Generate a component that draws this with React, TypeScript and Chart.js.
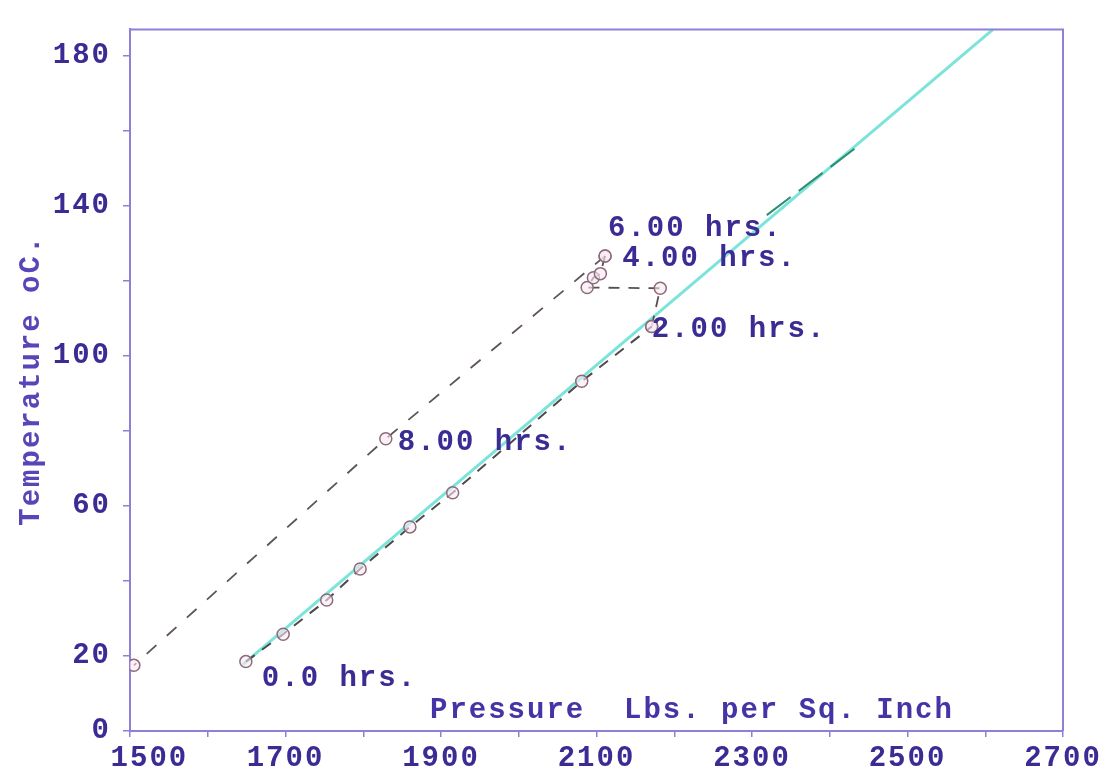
import React, { useEffect, useRef } from 'react';
import { Chart, registerables } from 'chart.js';

Chart.register(...registerables);

// ---------- data ----------
const xTickValues = [1500, 1600, 1700, 1800, 1900, 2000, 2100, 2200, 2300, 2400, 2500, 2600, 2700];
const xTickLabels = ['  1500', '', '1700', '', '1900', '', '2100', '', '2300', '', '2500', '', '2700'];
const yTickValues = [0, 20, 40, 60, 80, 100, 120, 140, 160, 180];
const yTickLabels = ['0', '20', '', '60', '', '100', '', '140', '', '180'];

// heating run 0.0 hrs -> 2.00 hrs
const heatingPressure = [1649, 1697, 1753, 1796, 1860, 1915, 2081, 2171];
const heatingTemp = [18.5, 25.8, 34.9, 43.2, 54.4, 63.5, 93.2, 107.8];

// 2.00 hrs -> 4.00 hrs -> 6.00 hrs
const holdPressure = [2171, 2182, 2088, 2096, 2105, 2111];
const holdTemp = [107.8, 118.0, 118.2, 120.8, 121.9, 126.6];

// cooling 6.00 hrs -> 8.00 hrs -> end
const coolPressure = [2111, 1829, 1505];
const coolTemp = [126.6, 77.9, 17.5];

// straight reference line (cyan)
const fitPressure = [1645, 2610];
const fitTemp = [17.7, 187];

// darker pencil strokes along the cyan line
const overlayPressure = [2319, 2435];
const overlayTemp = [137.5, 155.7];

const annotationTexts = ['0.0 hrs.', '2.00 hrs.', '4.00 hrs.', '6.00 hrs.', '8.00 hrs.'];
const annotationPressure = [1649, 2171, 2182, 2111, 1829];
const annotationTemp = [18.5, 107.8, 118.0, 126.6, 77.9];

const xTitle = 'Pressure  Lbs. per Sq. Inch';
const yTitle = 'Temperature oC.';

// ---------- styles ----------
const MONO = '"Liberation Mono", "DejaVu Sans Mono", monospace';
const TEXT = '#3b2c94';
const TITLE = '#5646b8';
const AXIS = '#8d80d6';
const annotationOffsets: [number, number][] = [
  [16, 17],
  [0, 3],
  [-38, -30],
  [3, -27],
  [12, 4],
];

const toXY = (xs: number[], ys: number[]) => xs.map((v, i) => ({ x: v, y: ys[i] }));

const decorPlugin = {
  id: 'decor',
  beforeDraw(chart: any) {
    chart.ctx.letterSpacing = '2px';
  },
  afterDatasetsDraw(chart: any) {
    const { ctx, chartArea, scales } = chart;
    const xs = scales.x;
    const ys = scales.y;
    ctx.save();
    // top & right frame
    ctx.strokeStyle = AXIS;
    ctx.lineWidth = 2;
    ctx.beginPath();
    ctx.moveTo(chartArea.left, chartArea.top);
    ctx.lineTo(chartArea.right, chartArea.top);
    ctx.lineTo(chartArea.right, chartArea.bottom);
    ctx.stroke();

    ctx.letterSpacing = '2px';
    ctx.font = `bold 29px ${MONO}`;
    ctx.fillStyle = TEXT;
    ctx.textAlign = 'left';
    ctx.textBaseline = 'middle';
    annotationTexts.forEach((t, i) => {
      const px = xs.getPixelForValue(annotationPressure[i]) + annotationOffsets[i][0];
      const py = ys.getPixelForValue(annotationTemp[i]) + annotationOffsets[i][1];
      ctx.fillText(t, px, py);
    });
    ctx.fillStyle = '#4434a6';
    ctx.fillText(xTitle, chartArea.left + 300, chartArea.bottom - 20);
    ctx.restore();
  },
};

export default function App() {
  const ref = useRef<HTMLCanvasElement | null>(null);

  useEffect(() => {
    document.body.style.margin = '0';
    const canvas = ref.current;
    if (!canvas) return;

    const pointStyle = {
      pointRadius: 6,
      pointBorderWidth: 1.5,
      pointBorderColor: '#8c6c7c',
      pointBackgroundColor: 'rgba(250,232,242,0.6)',
    };

    const chart = new Chart(canvas, {
      type: 'line',
      data: {
        datasets: [
          {
            label: 'heating',
            data: toXY(heatingPressure, heatingTemp),
            borderColor: '#4f4a4a',
            borderWidth: 2,
            borderDash: [11, 9],
            ...pointStyle,
            order: 1,
          },
          {
            label: 'hold',
            data: toXY(holdPressure, holdTemp),
            borderColor: '#5a4e50',
            borderWidth: 1.8,
            borderDash: [11, 9],
            ...pointStyle,
            order: 1,
          },
          {
            label: 'cooling',
            data: toXY(coolPressure, coolTemp),
            borderColor: '#5f5456',
            borderWidth: 1.8,
            borderDash: [13, 14],
            ...pointStyle,
            order: 1,
          },
          {
            label: 'overlay',
            data: toXY(overlayPressure, overlayTemp),
            borderColor: '#2f8c6e',
            borderWidth: 2,
            borderDash: [30, 10],
            pointRadius: 0,
            order: 2,
          },
          {
            label: 'fit',
            data: toXY(fitPressure, fitTemp),
            borderColor: '#7be4da',
            borderWidth: 3,
            pointRadius: 0,
            order: 3,
          },
        ],
      },
      options: {
        responsive: false,
        animation: false,
        layout: { padding: { left: 0, top: 12, right: 46, bottom: 0 } },
        plugins: {
          legend: { display: false },
          tooltip: { enabled: false },
        },
        scales: {
          x: {
            type: 'linear',
            min: 1500,
            max: 2700,
            afterBuildTicks: (s: any) => {
              s.ticks = xTickValues.map((v) => ({ value: v }));
            },
            afterFit: (s: any) => {
              s.height = 51;
            },
            ticks: {
              autoSkip: false,
              maxRotation: 0,
              padding: 4,
              color: TEXT,
              font: { family: MONO, size: 29, weight: 'bold' },
              callback: (v: any) => {
                const i = xTickValues.indexOf(Number(v));
                return i >= 0 ? xTickLabels[i] : '';
              },
            },
            grid: { drawOnChartArea: false, drawTicks: true, tickLength: 6, color: AXIS, lineWidth: 1.5 },
            border: { display: true, color: AXIS, width: 2 },
          },
          y: {
            type: 'linear',
            min: 0,
            max: 187,
            afterBuildTicks: (s: any) => {
              s.ticks = yTickValues.map((v) => ({ value: v }));
            },
            afterFit: (s: any) => {
              s.width = 130;
            },
            ticks: {
              autoSkip: false,
              padding: 12,
              color: TEXT,
              font: { family: MONO, size: 29, weight: 'bold' },
              callback: (v: any) => {
                const i = yTickValues.indexOf(Number(v));
                return i >= 0 ? yTickLabels[i] : '';
              },
            },
            grid: { drawOnChartArea: false, drawTicks: true, tickLength: 7, color: AXIS, lineWidth: 1.5 },
            border: { display: true, color: AXIS, width: 2 },
            title: {
              display: true,
              text: yTitle,
              color: TITLE,
              font: { family: MONO, size: 29, weight: 'bold' },
              padding: { top: 14, bottom: 0 },
            },
          },
        },
      },
      plugins: [decorPlugin],
    } as any);

    return () => chart.destroy();
  }, []);

  return (
    <div style={{ width: 1109, height: 782, background: '#ffffff' }}>
      <canvas ref={ref} width={1109} height={782} style={{ display: 'block', width: 1109, height: 782 }} />
    </div>
  );
}
